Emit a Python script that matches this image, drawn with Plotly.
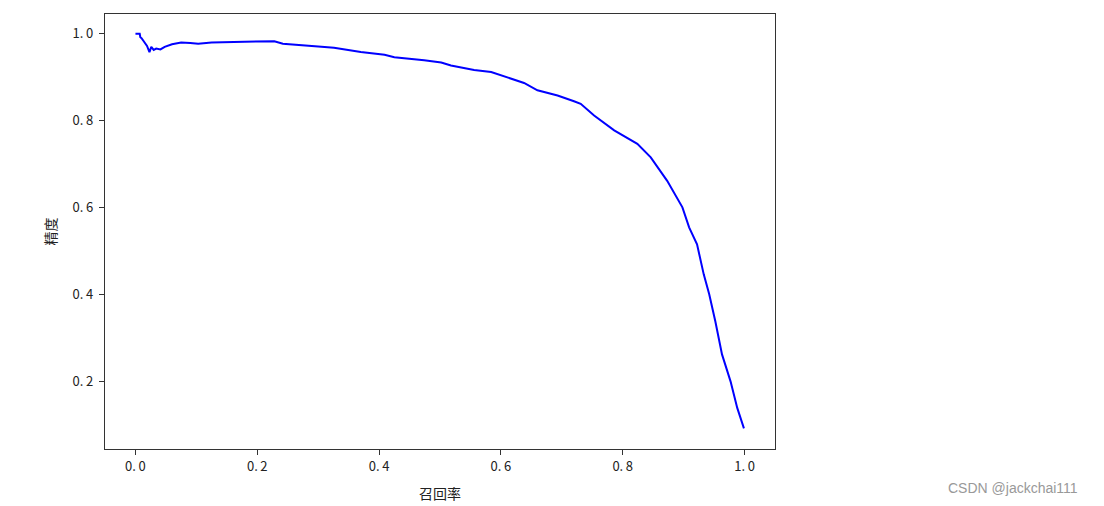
import plotly.graph_objects as go

# 召回率 / 精度 曲线上读出的点
recall = [0.0, 0.007, 0.008, 0.010, 0.013, 0.016, 0.019, 0.023, 0.026, 0.030,
          0.034, 0.041, 0.048, 0.060, 0.075, 0.090, 0.103,
          0.125, 0.162, 0.200, 0.228, 0.242, 0.272, 0.300, 0.326, 0.354, 0.370,
          0.409, 0.425, 0.474, 0.502, 0.518, 0.556, 0.584, 0.605, 0.638, 0.660,
          0.693, 0.720, 0.731, 0.753, 0.786, 0.824, 0.846, 0.873, 0.898, 0.909,
          0.922, 0.933, 0.942, 0.952, 0.963, 0.977, 0.988, 0.999]
precision = [1.0, 1.0, 0.992, 0.990, 0.984, 0.978, 0.972, 0.958, 0.970, 0.963,
             0.966, 0.964, 0.970, 0.976, 0.980, 0.979, 0.977,
             0.980, 0.981, 0.982, 0.983, 0.977, 0.973, 0.971, 0.968, 0.962, 0.958,
             0.952, 0.946, 0.939, 0.934, 0.927, 0.917, 0.912, 0.902, 0.887, 0.870,
             0.858, 0.845, 0.839, 0.812, 0.778, 0.747, 0.716, 0.662, 0.601, 0.555,
             0.516, 0.447, 0.401, 0.339, 0.263, 0.201, 0.140, 0.093]

tick_vals = [0.0, 0.2, 0.4, 0.6, 0.8, 1.0]
tick_text = ["0.\u20090", "0.\u20092", "0.\u20094", "0.\u20096", "0.\u20098", "1.\u20090"]
y_tick_vals = [0.2, 0.4, 0.6, 0.8, 1.0]
y_tick_text = ["0.\u20092", "0.\u20094", "0.\u20096", "0.\u20098", "1.\u20090"]

font = "Noto Sans CJK SC, SimHei, sans-serif"

fig = go.Figure()
fig.add_trace(go.Scatter(x=recall, y=precision, mode="lines",
                         line=dict(color="#0000ff", width=2)))

axis_style = dict(showline=True, linecolor="#333333", linewidth=1.3, mirror=True,
                  showgrid=False, zeroline=False, ticks="outside", ticklen=5,
                  tickcolor="#333333", tickfont=dict(size=13, color="#222222"))

fig.update_layout(
    width=1104, height=506,
    margin=dict(l=97, r=337, t=6, b=65),
    paper_bgcolor="white", plot_bgcolor="white",
    font=dict(family=font, color="#222222"),
    showlegend=False,
    xaxis=dict(range=[-0.05, 1.05], tickvals=tick_vals, ticktext=tick_text,
               title=dict(text="召回率", font=dict(size=14), standoff=15),
               **axis_style),
    yaxis=dict(range=[0.0455, 1.0455], tickvals=y_tick_vals, ticktext=y_tick_text,
               ticklabelstandoff=3,
               title=dict(text="精度", font=dict(size=14), standoff=12),
               **axis_style),
    annotations=[dict(text="CSDN @jackchai111", showarrow=False,
                      xref="paper", yref="paper",
                      x=(1012 - 104) / 670, y=(448 - 487) / 435,
                      xanchor="center", yanchor="middle",
                      font=dict(family="Liberation Sans, Arial", size=14, color="#999999"))],
)

fig.write_html("out.html")
